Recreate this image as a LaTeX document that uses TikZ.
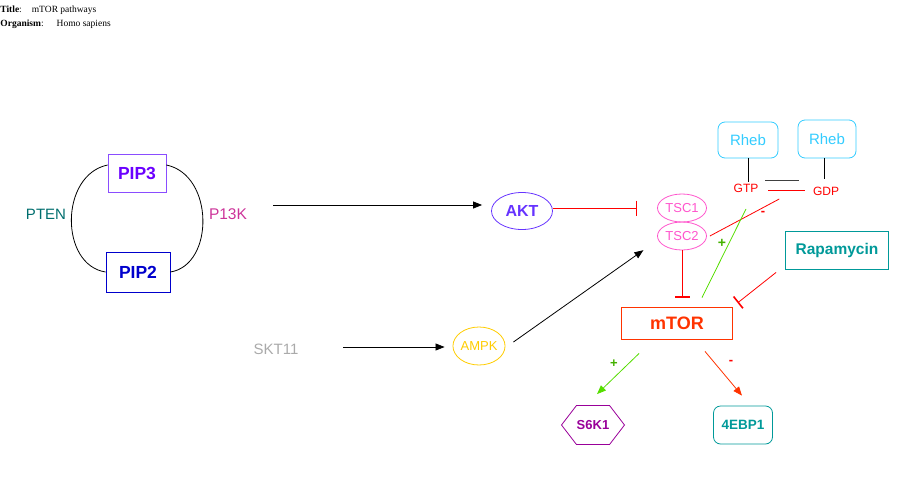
\documentclass[tikz,border=0pt]{standalone}
\usepackage{fontspec}
\setmainfont{Liberation Sans}
\newfontfamily\titlefont{Liberation Serif}
\usetikzlibrary{arrows.meta}
\usetikzlibrary{shapes.geometric}
\usetikzlibrary{shapes.symbols}

\definecolor{pipviolet}{HTML}{6A00FF}
\definecolor{pipframe}{HTML}{8A4DFF}
\definecolor{pipblue}{HTML}{0000CC}
\definecolor{ptenteal}{HTML}{006E6E}
\definecolor{pikpink}{HTML}{CC3399}
\definecolor{aktviolet}{HTML}{6633FF}
\definecolor{tscpink}{HTML}{FF55CC}
\definecolor{rhebcyan}{HTML}{33CCFF}
\definecolor{mtorred}{HTML}{FF3300}
\definecolor{rapateal}{HTML}{009999}
\definecolor{sktgray}{HTML}{AAAAAA}
\definecolor{ampkyellow}{HTML}{FFCC00}
\definecolor{s6kpurple}{HTML}{990099}
\definecolor{plusgreen}{HTML}{55DD00}

\begin{document}
\begin{tikzpicture}[x=1pt, y=-1pt, line width=0.8pt,
    act/.style={-{Triangle[length=9pt,width=7pt]}},
    inhib/.style={red, -{Bar[width=15pt,line width=1.6pt]}},
    box/.style={draw, inner sep=0pt},
    fs/.style={font=\fontsize{#1}{#1}\selectfont},
    fb/.style={font=\bfseries\fontsize{#1}{#1}\selectfont}]
    \useasboundingbox (0,0) rectangle (919,477);

    \node[anchor=west, inner sep=0pt, font=\titlefont\fontsize{9.5}{10}\selectfont] (title) at (0,10) {\textbf{Title}:\hspace{10pt}mTOR pathways};
    \node[anchor=west, inner sep=0pt, font=\titlefont\fontsize{9.5}{10}\selectfont] (organism) at (0,24) {\textbf{Organism}:\hspace{13pt}Homo sapiens};

    \node[box, draw=pipframe, text=pipviolet, fb=17.5, minimum width=58pt, minimum height=38pt] (pip3) at (137,173) {PIP3};
    \node[box, draw=pipblue, text=pipblue, fb=17.5, minimum width=64pt, minimum height=40pt] (pip2) at (138,272) {PIP2};
    \node[text=ptenteal, fs=15] (pten) at (46,214) {PTEN};
    \node[text=pikpink, fs=15.5] (p13k) at (228,214) {P13K};
    \draw ([yshift=8pt]pip3.west) .. controls +(-48,10) and +(-46,-7) .. (pip2.west);
    \draw ([yshift=8pt]pip3.east) .. controls +(48,10) and +(44,-7) .. (pip2.east);

    \node[draw=aktviolet, ellipse, text=aktviolet, fb=16, inner sep=0pt, minimum width=61pt, minimum height=37pt] (akt) at (522,211) {AKT};
    \node[draw=tscpink, ellipse, text=tscpink, fs=13, inner sep=0pt, minimum width=49pt, minimum height=28pt] (tsc1) at (682,208) {TSC1};
    \node[draw=tscpink, ellipse, text=tscpink, fs=13, inner sep=0pt, minimum width=49pt, minimum height=28pt] (tsc2) at (682,236) {TSC2};

    \node[box, draw=rhebcyan, text=rhebcyan, fs=15, rounded corners=7pt, minimum width=60pt, minimum height=36pt] (rheb1) at (748,140) {Rheb};
    \node[box, draw=rhebcyan, text=rhebcyan, fs=15, rounded corners=7pt, minimum width=58pt, minimum height=38pt] (rheb2) at (827,139) {Rheb};
    \node[text=red, fs=12] (gtp) at (746,188) {GTP};
    \node[text=red, fs=12] (gdp) at (826,191) {GDP};

    \node[box, draw=mtorred, text=mtorred, fb=18, minimum width=111pt, minimum height=32pt] (mtor) at (677,323) {mTOR};
    \node[box, draw=rapateal, text=rapateal, fb=15.5, minimum width=103pt, minimum height=38pt] (rapa) at (837,250) {Rapamycin};

    \node[text=sktgray, fs=15] (skt11) at (276,349) {SKT11};
    \node[draw=ampkyellow, ellipse, text=ampkyellow, fs=13, inner sep=0pt, minimum width=50pt, minimum height=38pt] (ampk) at (479,346) {AMPK};

    \node[draw=s6kpurple, signal, signal to=west and east, signal pointer angle=105, text=s6kpurple, fb=13, inner sep=0pt, minimum width=63pt, minimum height=39pt] (s6k1) at (593,425) {S6K1};
    \node[box, draw=rapateal, text=rapateal, fb=13.5, rounded corners=7pt, minimum width=59pt, minimum height=38pt] (ebp) at (743,425) {4EBP1};

    % connectors
    \coordinate (p13kout) at (273,205);
    \coordinate (sktout) at (343,347);
    \draw[act, shorten >=9pt] (p13kout) -- (p13kout -| akt.west);
    \draw[act, shorten >=8pt] (sktout) -- (sktout -| ampk.west);
    \draw[inhib, shorten >=20pt] (akt.east |- tsc1.west) -- (tsc1.west);
    \draw[act] ([shift={(8pt,4pt)}]ampk.east) -- ([shift={(-21pt,-4pt)}]tsc2.south west);
    \draw[inhib, shorten >=9pt] (tsc2.south) -- (tsc2.south |- mtor.north);
    \draw[inhib, shorten >=6pt] ([shift={(-9pt,-3pt)}]rapa.south west) -- (mtor.north east);

    \draw (rheb1.south) -- ([yshift=-2pt]rheb1.south |- gtp.north);
    \draw ([xshift=-3pt]rheb2.south) -- ([xshift=-3pt,yshift=4pt]rheb2.south |- gdp.north);
    \draw[black!75] ([shift={(3pt,0pt)}]gtp.north east) -- ([shift={(-10pt,3pt)}]gdp.north west);
    \draw[red] ([shift={(6pt,-2pt)}]gtp.east) -- ([shift={(-4pt,1pt)}]gdp.west);
    \draw[red] ([xshift=3pt]tsc2.east) -- ([shift={(-30pt,0pt)}]gdp.south west);
    \draw[plusgreen] ([shift={(25pt,9pt)}]mtor.north) -- ([yshift=-13pt]gtp.south);
    \node[text=red, fb=13] (minus1) at (763,213) {-};
    \node[text=plusgreen!80!black, fb=14] (plus1) at (722,243) {+};

    \draw[act, plusgreen] ([shift={(18pt,-14pt)}]mtor.south west) -- ([shift={(4pt,11pt)}]s6k1.north);
    \draw[act, mtorred] ([shift={(28pt,-12pt)}]mtor.south) -- ([shift={(-1pt,10pt)}]ebp.north);
    \node[text=plusgreen!80!black, fb=13] (plus2) at (614,364) {+};
    \node[text=red, fb=13] (minus2) at (731,362) {-};
\end{tikzpicture}
\end{document}
